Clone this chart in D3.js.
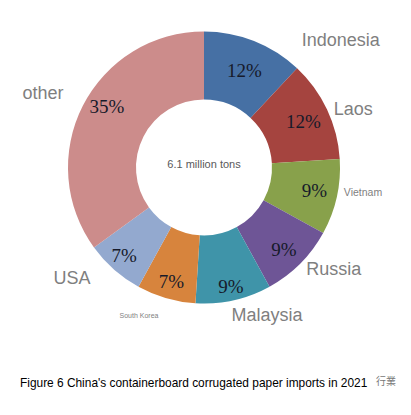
<!DOCTYPE html>
<meta charset="utf-8">
<script src="https://d3js.org/d3.v7.min.js"></script>
<style>
body { margin: 0; background: #fff; }
</style>
<body>
<div id="chart"></div>
<script>

// data (clockwise from 12 o'clock)
const countries = ["Indonesia", "Laos", "Vietnam", "Russia", "Malaysia", "South Korea", "USA", "other"];
const shares = [12, 12, 9, 9, 9, 7, 7, 35];
const sliceColors = ["#4670a4", "#a5443f", "#88a14b", "#6e5596", "#3f94a9", "#d7843d", "#93a9cf", "#cc8c8b"];
const totalLabel = "6.1 million tons";
const caption = "Figure 6 China's containerboard corrugated paper imports in 2021";

// layout only: name label size and nudges from the computed anchor
const nameSize = [18, 18, 10.5, 18, 18, 7, 18, 18];
const nameNudge = [[76, 26], [0, 11], [-2, -11], [13, -15], [27, -14], [-19, -10], [-23, -14], [-14, 0]];
const pctNudge = [[0, 5], [0, 1], [3, -1], [2, 4], [3, 11], [-2, 8], [-7, 5], [1, -11]];

const W = 411, H = 415;
const cx = 204, cy = 167.5, rOuter = 136, rInner = 68;

const svg = d3.select("#chart").append("svg")
    .attr("width", W)
    .attr("height", H);

const g = svg.append("g")
    .attr("transform", `translate(${cx},${cy})`);

const pie = d3.pie().sort(null).value(d => d.v);
const arcs = pie(countries.map((c, i) => ({name: c, v: shares[i], i: i})));

const arc = d3.arc().innerRadius(rInner).outerRadius(rOuter);
const pctArc = d3.arc().innerRadius(110).outerRadius(110);
const nameArc = d3.arc().innerRadius(165).outerRadius(165);

g.selectAll("path.slice")
  .data(arcs)
  .join("path")
    .attr("class", "slice")
    .attr("d", arc)
    .attr("fill", d => sliceColors[d.data.i]);

// percentages inside the ring
g.selectAll("text.pct")
  .data(arcs)
  .join("text")
    .attr("class", "pct")
    .attr("transform", d => {
      const [x, y] = pctArc.centroid(d);
      const n = pctNudge[d.data.i];
      return `translate(${x + n[0]},${y + n[1]})`;
    })
    .attr("text-anchor", "middle")
    .attr("dy", "0.35em")
    .style("font-family", "'Liberation Serif', 'DejaVu Serif', serif")
    .style("font-size", "19px")
    .style("fill", "#161a2a")
    .text(d => d.data.v + "%");

// country names outside
g.selectAll("text.name")
  .data(arcs)
  .join("text")
    .attr("class", "name")
    .attr("transform", d => {
      const [x, y] = nameArc.centroid(d);
      const n = nameNudge[d.data.i];
      return `translate(${x + n[0]},${y + n[1]})`;
    })
    .attr("text-anchor", "middle")
    .attr("dy", "0.35em")
    .style("font-family", "'Liberation Sans', Arial, sans-serif")
    .style("font-size", d => nameSize[d.data.i] + "px")
    .style("fill", "#7f7f7f")
    .text(d => d.data.name);

// centre text
g.append("text")
    .attr("y", -3)
    .attr("text-anchor", "middle")
    .attr("dy", "0.35em")
    .style("font-family", "'Liberation Sans', Arial, sans-serif")
    .style("font-size", "11px")
    .style("fill", "#595959")
    .text(totalLabel);

// caption
svg.append("text")
    .attr("x", 20)
    .attr("y", 387)
    .style("font-family", "'Liberation Sans', Arial, sans-serif")
    .style("font-size", "11.9px")
    .style("fill", "#000")
    .text(caption);

// watermark
svg.append("text")
    .attr("x", 376)
    .attr("y", 385)
    .style("font-family", "'Noto Sans CJK TC', sans-serif")
    .style("font-size", "10px")
    .style("fill", "#777")
    .text("行業");

</script>
</body>
